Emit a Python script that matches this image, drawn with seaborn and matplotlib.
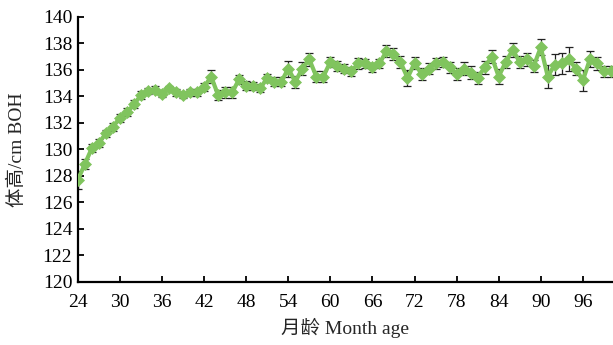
import matplotlib
matplotlib.use("Agg")
import matplotlib.pyplot as plt
import numpy as np
import pandas as pd
import seaborn as sns

# Body height (BOH, cm) by month of age, mean ± error
months = list(range(24, 101))
height = [
    127.7, 128.9, 130.1, 130.5, 131.2, 131.7, 132.4, 132.8, 133.4, 134.1,
    134.4, 134.5, 134.2, 134.6, 134.3, 134.1, 134.3, 134.3, 134.7, 135.5,
    134.1, 134.3, 134.3, 135.3, 134.8, 134.8, 134.6, 135.4, 135.1, 135.1,
    136.1, 135.1, 136.1, 136.8, 135.5, 135.5, 136.6, 136.3, 136.1, 135.9,
    136.5, 136.5, 136.2, 136.5, 137.4, 137.2, 136.6, 135.4, 136.5, 135.7,
    136.1, 136.5, 136.6, 136.2, 135.7, 136.1, 135.8, 135.4, 136.2, 137.0,
    135.5, 136.6, 137.5, 136.6, 136.8, 136.3, 137.7, 135.5, 136.4, 136.5,
    136.8, 136.1, 135.2, 136.8, 136.5, 135.9, 135.9,
]
err = [
    0.7, 0.4, 0.3, 0.3, 0.3, 0.3, 0.3, 0.3, 0.3, 0.3,
    0.25, 0.25, 0.25, 0.2, 0.25, 0.25, 0.25, 0.25, 0.3, 0.5,
    0.4, 0.4, 0.4, 0.35, 0.35, 0.3, 0.3, 0.3, 0.35, 0.35,
    0.6, 0.45, 0.5, 0.5, 0.45, 0.4, 0.35, 0.35, 0.35, 0.35,
    0.4, 0.35, 0.35, 0.35, 0.45, 0.45, 0.45, 0.6, 0.45, 0.45,
    0.4, 0.4, 0.4, 0.4, 0.45, 0.5, 0.5, 0.45, 0.5, 0.5,
    0.6, 0.45, 0.5, 0.45, 0.5, 0.45, 0.6, 0.9, 0.8, 0.8,
    0.9, 0.5, 0.8, 0.6, 0.5, 0.4, 0.4,
]
x_ticks = [24, 30, 36, 42, 48, 54, 60, 66, 72, 78, 84, 90, 96]
y_ticks = [120, 122, 124, 126, 128, 130, 132, 134, 136, 138, 140]

df = pd.DataFrame({"month": months, "height": height, "err": err})

sns.set_theme(style="white")
plt.rcParams["font.family"] = ["Liberation Serif", "Noto Sans CJK SC"]

fig = plt.figure(figsize=(6.13, 3.45), dpi=100)
ax = fig.add_axes([0.127, 0.183, 0.873, 0.768])

green = "#80C45E"
ax.errorbar(df["month"], df["height"], yerr=df["err"], fmt="none",
            ecolor="#222222", elinewidth=0.9, capsize=3, capthick=0.9, zorder=2)
sns.lineplot(data=df, x="month", y="height", ax=ax, color=green, lw=3,
             marker="D", markersize=6.5, markeredgecolor=green,
             markeredgewidth=0.5, zorder=3)

ax.set_xlim(24, 100.3)
ax.set_ylim(120, 140)
ax.set_xticks(x_ticks)
ax.set_yticks(y_ticks)
ax.tick_params(direction="in", length=4, width=1.3, labelsize=14,
               colors="black", left=True, bottom=True)
ax.tick_params(axis="x", pad=9)
ax.tick_params(axis="y", pad=4)
for s in ["top", "right"]:
    ax.spines[s].set_visible(False)
for s in ["left", "bottom"]:
    ax.spines[s].set_color("black")
    ax.spines[s].set_linewidth(1.6)

ax.set_xlabel("月龄 Month age", fontsize=14, labelpad=5)
ax.set_ylabel("体高/cm BOH", fontsize=14, labelpad=12)
ax.grid(False)

fig.savefig("out.png", dpi=100)
